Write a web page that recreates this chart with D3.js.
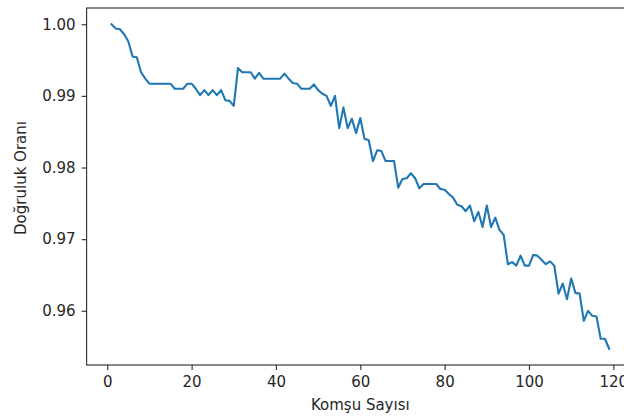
<!DOCTYPE html>
<html>
<head>
<meta charset="utf-8">
<script src="https://cdn.jsdelivr.net/npm/d3@7"></script>
<style>
  html, body { margin: 0; padding: 0; background: #fff; }
  svg { display: block; }
  text { font-family: "DejaVu Sans", sans-serif; fill: #262626; }
</style>
</head>
<body>
<svg id="chart" width="624" height="416"></svg>
<script>
// Komşu sayısı (k) ve her k için doğruluk oranı
const komsuSayisi = d3.range(1, 120);
const dogrulukOrani = [
  1.0000, 0.9994, 0.9993, 0.9986, 0.9976, 0.9955, 0.9954, 0.9933, 0.9924, 0.9917,
  0.9917, 0.9917, 0.9917, 0.9917, 0.9917, 0.9910, 0.9910, 0.9910, 0.9917, 0.9917,
  0.9910, 0.9901, 0.9908, 0.9901, 0.9908, 0.9901, 0.9908, 0.9894, 0.9893, 0.9886,
  0.9939, 0.9933, 0.9933, 0.9933, 0.9924, 0.9932, 0.9924, 0.9924, 0.9924, 0.9924,
  0.9924, 0.9931, 0.9924, 0.9918, 0.9917, 0.9910, 0.9910, 0.9910, 0.9916, 0.9908,
  0.9903, 0.9900, 0.9886, 0.9900, 0.9855, 0.9884, 0.9855, 0.9868, 0.9848, 0.9869,
  0.9840, 0.9838, 0.9809, 0.9824, 0.9823, 0.9809, 0.9809, 0.9809, 0.9772, 0.9784,
  0.9785, 0.9792, 0.9785, 0.9771, 0.9777, 0.9777, 0.9777, 0.9777, 0.9770, 0.9769,
  0.9763, 0.9758, 0.9748, 0.9746, 0.9739, 0.9747, 0.9725, 0.9738, 0.9717, 0.9747,
  0.9717, 0.9730, 0.9713, 0.9706, 0.9665, 0.9668, 0.9663, 0.9677, 0.9663, 0.9663,
  0.9678, 0.9677, 0.9671, 0.9665, 0.9669, 0.9663, 0.9624, 0.9638, 0.9616, 0.9645,
  0.9625, 0.9624, 0.9586, 0.9600, 0.9593, 0.9592, 0.9561, 0.9561, 0.9547
];
const xTicks = [0, 20, 40, 60, 80, 100, 120];
const yTicks = [0.96, 0.97, 0.98, 0.99, 1.00];
const xLabel = "Komşu Sayısı";
const yLabel = "Doğruluk Oranı";

const svg = d3.select("#chart");

// plot frame (right edge runs past the canvas)
const frame = { left: 86.6, right: 634, top: 8, bottom: 365 };

const xExtent = d3.extent(komsuSayisi);
const xPad = (xExtent[1] - xExtent[0]) * 0.05;
const x = d3.scaleLinear()
  .domain([xExtent[0] - xPad, xExtent[1] + xPad])
  .range([frame.left, frame.right]);

const yExtent = d3.extent(dogrulukOrani);
const yPad = (yExtent[1] - yExtent[0]) * 0.05;
const y = d3.scaleLinear()
  .domain([yExtent[0] - yPad, yExtent[1] + yPad])
  .range([frame.bottom, frame.top]);

const fontSize = 15;

// line
const line = d3.line()
  .x((d, i) => x(komsuSayisi[i]))
  .y(d => y(d));

svg.append("path")
  .datum(dogrulukOrani)
  .attr("fill", "none")
  .attr("stroke", "#1f77b4")
  .attr("stroke-width", 2.1)
  .attr("stroke-linejoin", "round")
  .attr("stroke-linecap", "square")
  .attr("d", line);

// axes
const xAxis = d3.axisBottom(x).tickValues(xTicks).tickFormat(d3.format("d"))
  .tickSize(5).tickPadding(6);
const yAxis = d3.axisLeft(y).tickValues(yTicks).tickFormat(d3.format(".2f"))
  .tickSize(5).tickPadding(6);

const gx = svg.append("g").attr("transform", `translate(0,${frame.bottom})`).call(xAxis);
const gy = svg.append("g").attr("transform", `translate(${frame.left},0)`).call(yAxis);

[gx, gy].forEach(g => {
  g.select(".domain").remove();
  g.selectAll(".tick line").attr("stroke", "#333").attr("stroke-width", 1.15);
  g.selectAll(".tick text")
    .attr("font-family", "DejaVu Sans, sans-serif")
    .attr("font-size", fontSize)
    .attr("fill", "#262626");
});

// spines
svg.append("rect")
  .attr("x", frame.left).attr("y", frame.top)
  .attr("width", frame.right - frame.left).attr("height", frame.bottom - frame.top)
  .attr("fill", "none")
  .attr("stroke", "#333")
  .attr("stroke-width", 1.15);

// axis titles
svg.append("text")
  .attr("x", (frame.left + frame.right) / 2)
  .attr("y", 410)
  .attr("text-anchor", "middle")
  .attr("font-size", fontSize)
  .text(xLabel);

svg.append("text")
  .attr("transform", `translate(26,178) rotate(-90)`)
  .attr("text-anchor", "middle")
  .attr("font-size", fontSize)
  .text(yLabel);
</script>
</body>
</html>
